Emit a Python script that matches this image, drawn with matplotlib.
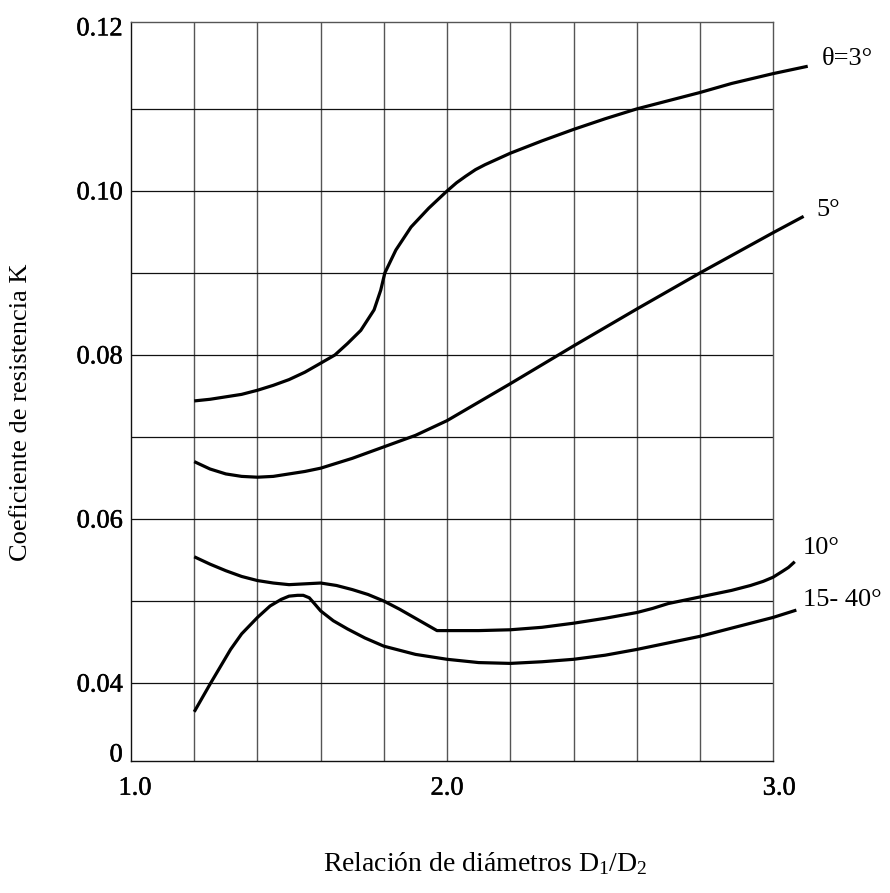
import matplotlib
matplotlib.use("Agg")
import matplotlib.pyplot as plt
import matplotlib.transforms as mtransforms
import matplotlib.patheffects as pe

plt.rcParams['font.family'] = ['Liberation Serif', 'DejaVu Serif']
plt.rcParams['mathtext.fontset'] = 'custom'
plt.rcParams['mathtext.rm'] = 'Liberation Serif'
plt.rcParams['mathtext.it'] = 'Liberation Serif:italic'

# Diameter ratio D1/D2 and resistance coefficient K for each cone angle
x_3deg = [1.20, 1.25, 1.30, 1.35, 1.40, 1.45, 1.50, 1.55, 1.60, 1.645, 1.685, 1.727,
          1.769, 1.790, 1.803, 1.838, 1.886, 1.942, 2.00, 2.03, 2.059, 2.09, 2.12, 2.16, 2.20,
          2.30, 2.40, 2.50, 2.60, 2.70, 2.80, 2.90, 3.031, 3.141]
k_3deg = [0.0744, 0.0746, 0.0749, 0.0752, 0.0757, 0.0763, 0.0770, 0.0779, 0.0790, 0.0800, 0.0814, 0.0830,
          0.0855, 0.0879, 0.0900, 0.0928, 0.0956, 0.0979, 0.1000, 0.1010, 0.1018, 0.1026, 0.1032, 0.1039, 0.1046,
          0.1061, 0.1075, 0.1088, 0.1100, 0.1110, 0.1120, 0.1131, 0.1143, 0.1152]

x_5deg = [1.20, 1.25, 1.30, 1.35, 1.40, 1.45, 1.50, 1.55, 1.60, 1.70, 1.80, 1.90, 2.00,
          2.20, 2.40, 2.60, 2.80, 3.031, 3.128]
k_5deg = [0.0670, 0.0661, 0.0655, 0.0652, 0.0651, 0.0652, 0.0655, 0.0658, 0.0662, 0.0674, 0.0688, 0.0702, 0.0720,
          0.0765, 0.0811, 0.0856, 0.0900, 0.0949, 0.0969]

x_10deg = [1.20, 1.25, 1.30, 1.35, 1.40, 1.45, 1.50, 1.55, 1.60, 1.65, 1.70, 1.75, 1.80,
           1.85, 1.90, 1.968, 2.10, 2.20, 2.30, 2.40, 2.50, 2.60, 2.65, 2.70, 2.75, 2.80,
           2.90, 2.96, 3.00, 3.031, 3.06, 3.08, 3.10]
k_10deg = [0.0554, 0.0545, 0.0537, 0.0530, 0.0525, 0.0522, 0.0520, 0.0521, 0.0522, 0.0519, 0.0514, 0.0508, 0.0500,
           0.0490, 0.0479, 0.0464, 0.0464, 0.0465, 0.0468, 0.0473, 0.0479, 0.0486, 0.0491, 0.0497, 0.0501, 0.0505,
           0.0513, 0.0519, 0.0524, 0.0529, 0.0536, 0.0541, 0.0548]

x_15_40deg = [1.20, 1.252, 1.315, 1.35, 1.40, 1.44, 1.475, 1.50, 1.527, 1.545, 1.564, 1.58, 1.60,
              1.64, 1.685, 1.74, 1.80, 1.90, 2.00, 2.10, 2.20, 2.30, 2.40, 2.50, 2.60, 2.70,
              2.80, 2.90, 3.031, 3.105]
k_15_40deg = [0.0365, 0.0400, 0.0441, 0.0460, 0.0480, 0.0494, 0.0502, 0.0506, 0.0507, 0.0507, 0.0504, 0.0497, 0.0488,
              0.0476, 0.0466, 0.0455, 0.0445, 0.0435, 0.0429, 0.0425, 0.0424, 0.0426, 0.0429, 0.0434, 0.0441, 0.0449,
              0.0457, 0.0467, 0.0480, 0.0489]

curve_labels = ['θ=3°', '5°', '10°', '15- 40°']
x_ticks = [1.0, 2.0, 3.0]
x_tick_labels = ['1.0', '2.0', '3.0']
y_ticks = [0.0305, 0.04, 0.06, 0.08, 0.10, 0.12]
y_tick_labels = ['0', '0.04', '0.06', '0.08', '0.10', '0.12']

FS = 19
heavy = [pe.withStroke(linewidth=0.35, foreground='black')]

fig = plt.figure(figsize=(8.9, 8.93), dpi=100)
ax = fig.add_axes([0.1472, 0.1478, 0.7213, 0.8276])
ax.set_xlim(1.0044, 3.031)
ax.set_ylim(0.0305, 0.1206)

# grid
for gx in [1.2, 1.4, 1.6, 1.8, 2.0, 2.2, 2.4, 2.6, 2.8]:
    ax.axvline(gx, color='#555555', lw=1.0, zorder=1)
for gy in [0.04, 0.05, 0.06, 0.07, 0.08, 0.09, 0.10, 0.11]:
    ax.axhline(gy, color='#111111', lw=0.9, zorder=1)

for s in ax.spines.values():
    s.set_linewidth(1.0)
ax.spines['left'].set_color('#111111')
ax.spines['bottom'].set_color('#111111')
ax.spines['top'].set_color('#555555')
ax.spines['right'].set_color('#555555')

series = [(x_3deg, k_3deg), (x_5deg, k_5deg), (x_10deg, k_10deg), (x_15_40deg, k_15_40deg)]
for xs, ks in series:
    ax.plot(xs, ks, color='black', lw=2.3, solid_joinstyle='round',
            solid_capstyle='butt', clip_on=False, zorder=3)

# curve labels next to line ends
label_offsets = [(10, 5), (9.5, 4.5), (6, 9.5), (4.5, 7)]
for (xs, ks), lab, (dx, dy) in zip(series, curve_labels, label_offsets):
    ax.annotate(lab, xy=(xs[-1], ks[-1]), xytext=(dx, dy), textcoords='offset points',
                fontsize=FS, ha='left', va='center', annotation_clip=False)

ax.set_xticks(x_ticks)
ax.set_xticklabels(x_tick_labels, fontsize=FS)
ax.set_yticks(y_ticks)
ax.set_yticklabels(y_tick_labels, fontsize=FS)
ax.tick_params(axis='x', length=0, pad=12)
ax.tick_params(axis='y', length=0, pad=6)

# nudge the outer x tick labels, thicken the tick numerals slightly
for lab, dx in zip(ax.get_xticklabels(), [4, 0, 16]):
    lab.set_transform(lab.get_transform() + mtransforms.ScaledTranslation(dx / 100, 0, fig.dpi_scale_trans))
    lab.set_path_effects(heavy)
ylabs = ax.get_yticklabels()
ylabs[0].set_transform(ylabs[0].get_transform() + mtransforms.ScaledTranslation(0, 8 / 100, fig.dpi_scale_trans))
for lab in ylabs:
    lab.set_path_effects(heavy)

ax.set_xlabel('Relación de diámetros D$_1$/D$_2$', fontsize=20)
ax.xaxis.label.set_va('center')
ax.xaxis.set_label_coords(0.551, -0.139)
ax.set_ylabel('Coeficiente de resistencia K', fontsize=FS)
ax.yaxis.label.set_va('center')
ax.yaxis.set_label_coords(-0.171, 0.472)

fig.savefig('out.png', dpi=100)
